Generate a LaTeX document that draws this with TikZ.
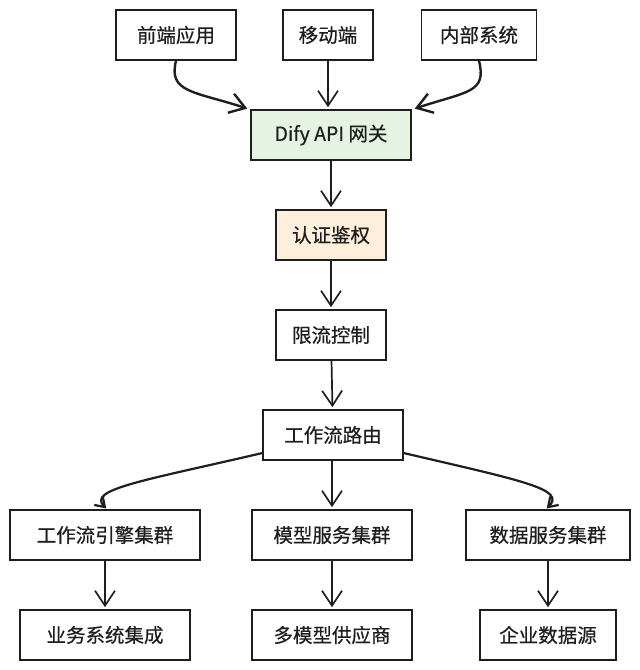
\documentclass[tikz,border=0pt]{standalone}
\usepackage{fontspec}
\setmainfont{Noto Sans CJK SC}
\newfontfamily\boxfont{Noto Sans CJK SC}[FakeBold=0.5]
\usepackage{tikz}
\usetikzlibrary{arrows.meta, positioning, calc}

\definecolor{ink}{HTML}{1E1E1E}
\definecolor{gwgreen}{HTML}{E6F3E3}
\definecolor{authorange}{HTML}{FDEFDC}

\begin{document}
\begin{tikzpicture}[x=1pt, y=-1pt,
  box/.style={draw=ink, line width=1.6pt, fill=white, minimum width=#1, minimum height=50pt,
    inner sep=0pt, font=\boxfont\fontsize{19.5}{22}\selectfont, text=ink},
  arr/.style={draw=ink, line width=1.7pt, -{Straight Barb[length=15pt, width=20pt]}, shorten >=2pt},
  arrs/.style={draw=ink, line width=1.7pt, -{Straight Barb[length=9pt, width=12pt]}, shorten >=1pt}]

\fill[white] (0,0) rectangle (640,670);
\useasboundingbox (0,0) rectangle (640,670);

% Clients
\node[box=120pt] (fe) at (176,35) {前端应用};
\node[box=90pt] (mob) at (328,35) {移动端};
\node[box=115pt] (inn) at (479,35) {内部系统};

% Gateway chain
\node[box=160pt, fill=gwgreen] (gw) at (331,135) {Dify API 网关};
\node[box=110pt, fill=authorange] (auth) at (331,235) {认证鉴权};
\node[box=110pt] (rate) at (331,335) {限流控制};
\node[box=140pt] (route) at (333,435) {工作流路由};

% Clusters
\node[box=190pt] (wfc) at (105,535) {工作流引擎集群};
\node[box=160pt] (msc) at (332,535) {模型服务集群};
\node[box=164pt] (dsc) at (548,535) {数据服务集群};

% Backends
\node[box=170pt] (biz) at (105,635) {业务系统集成};
\node[box=160pt] (mmp) at (332,635) {多模型供应商};
\node[box=136pt] (eds) at (548,635) {企业数据源};

% Client arrows
\draw[arr, line width=2.4pt] (fe.south) .. controls +(-8,32) and +(-55,-18) .. ([xshift=-1pt]gw.north west);
\draw[arr] (mob.south) -- (mob.south |- gw.north);
\draw[arr, line width=2.4pt] (inn.south) .. controls +(8,32) and +(55,-18) .. ([xshift=1pt]gw.north east);

% Main flow
\draw[arr] (gw) -- (auth);
\draw[arr] (auth) -- (rate);
\draw[arr] (rate) -- (route);

% Routing
\draw[arrs, line width=2.2pt] ($(route.west)!0.7!(route.south west)$) .. controls +(-120,28) and +(-20,-20) .. ([xshift=2pt]wfc.north);
\draw[arr] (route.south -| msc.north) -- (msc.north);
\draw[arrs, line width=2.2pt] ($(route.east)!0.7!(route.south east)$) .. controls +(120,28) and +(20,-20) .. ([xshift=-2pt]dsc.north);

% Backend arrows
\draw[arr] (wfc) -- (biz);
\draw[arr] (msc) -- (mmp);
\draw[arr] (dsc) -- (eds);

\end{tikzpicture}
\end{document}
